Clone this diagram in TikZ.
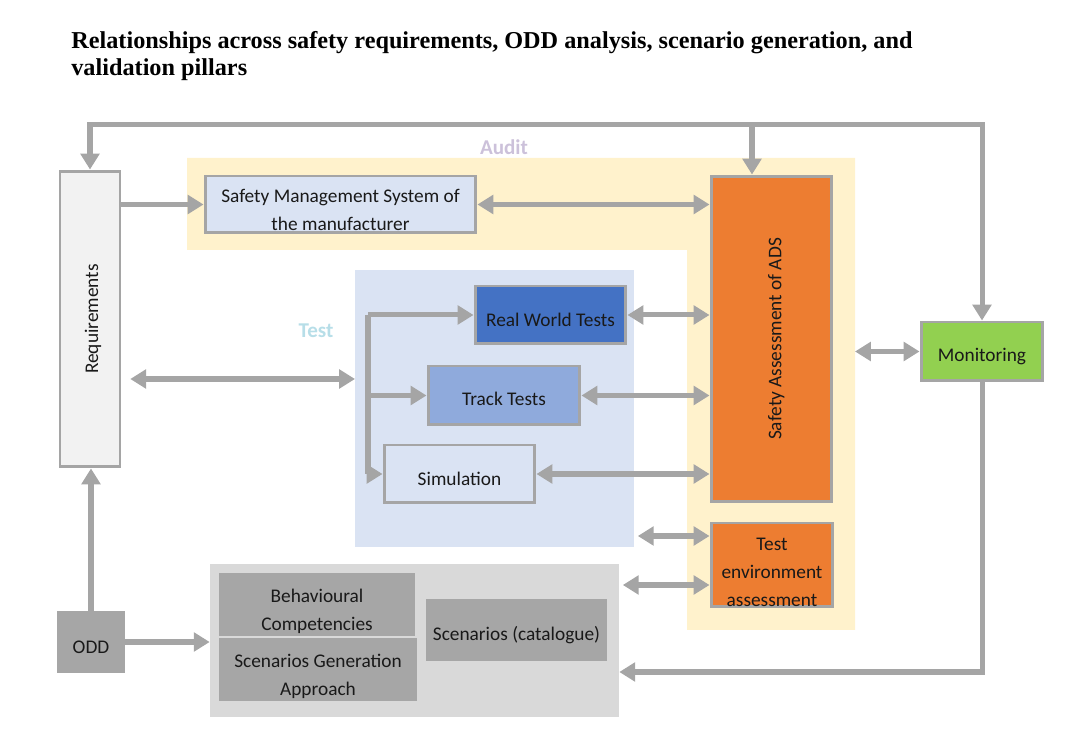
\documentclass[tikz,border=0pt]{standalone}
\usepackage{fontspec}
\setmainfont{Carlito}
\newfontfamily\titlefont{Liberation Serif}
\usetikzlibrary{arrows.meta}
\definecolor{linegray}{HTML}{A5A5A5}
\definecolor{audityellow}{HTML}{FFF2CC}
\definecolor{testblue}{HTML}{DAE3F3}
\definecolor{rwtblue}{HTML}{4472C4}
\definecolor{trackblue}{HTML}{8FAADC}
\definecolor{saorange}{HTML}{ED7D31}
\definecolor{mongreen}{HTML}{92D050}
\definecolor{reqgray}{HTML}{F2F2F2}
\definecolor{scengray}{HTML}{D9D9D9}
\definecolor{darkgray}{HTML}{A6A6A6}
\definecolor{auditlabel}{HTML}{CCC1DA}
\definecolor{testlabel}{HTML}{B7DEE8}
\begin{document}
\begin{tikzpicture}[x=0.02cm,y=-0.02cm,
    >={Triangle[length=9pt,width=10.5pt]},
    box/.style={draw=linegray,line width=1.7pt,inner sep=0pt},
    flatbox/.style={inner sep=0pt,draw=none},
    txt/.style={inner sep=0pt,align=center,yshift=-3pt,
      font=\fontsize{11}{16}\selectfont,text=black!90},
    back/.style={inner sep=0pt,draw=none},
    flow/.style={draw=linegray,line width=2.85pt,->},
    biflow/.style={flow,<->},
    grouplabel/.style={font=\bfseries\fontsize{12}{14}\selectfont}]
  \useasboundingbox (0,0) rectangle (1080,729);

  % title
  \node[anchor=north west,inner sep=0pt,align=left,
    font=\titlefont\bfseries\fontsize{13.8}{15.3}\selectfont] (title) at (71,31)
    {Relationships across safety requirements, ODD analysis, scenario generation, and\\validation pillars};

  % background groups
  \fill[audityellow] (187,158) -- (855,158) -- (855,630) -- (687,630) -- (687,250) -- (187,250) -- cycle;
  \node[back,fill=testblue,minimum width=5.58cm,minimum height=5.54cm] (testbg) at (494.5,408.5) {};
  \node[back,fill=scengray,minimum width=8.18cm,minimum height=3.06cm] (scengrp) at (414.5,640.5) {};
  \node[grouplabel,text=auditlabel] (audit) at (504,147) {Audit};
  \node[grouplabel,text=testlabel] (test) at (316,331) {Test};

  % boxes
  \node[box,fill=reqgray,minimum width=1.2cm,minimum height=5.92cm,
    label={[txt,yshift=3pt,xshift=1.7pt]center:\rotatebox{90}{Requirements}}] (req) at (90,319) {};
  \node[box,fill=testblue,minimum width=5.42cm,minimum height=1.14cm,
    label={[txt]center:{Safety Management System of\\the manufacturer}}] (sms) at (340.5,204.5) {};
  \node[box,fill=saorange,minimum width=2.42cm,minimum height=6.52cm,
    label={[txt,yshift=3pt,xshift=2.8pt]center:\rotatebox{90}{Safety Assessment of ADS}}] (sa) at (771.5,339) {};
  \node[box,fill=saorange,minimum width=2.44cm,minimum height=1.68cm,
    label={[txt,yshift=-1pt]center:{Test\\environment\\assessment}}] (tea) at (772,565) {};
  \node[box,fill=mongreen,minimum width=2.44cm,minimum height=1.18cm,
    label={[txt]center:Monitoring}] (mon) at (982,351.5) {};
  \node[box,fill=rwtblue,minimum width=3.02cm,minimum height=1.16cm,
    label={[txt]center:Real World Tests}] (rwt) at (550.5,315) {};
  \node[box,fill=trackblue,minimum width=3.04cm,minimum height=1.18cm,
    label={[txt,yshift=1pt]center:Track Tests}] (track) at (504,395.5) {};
  \node[box,fill=testblue,minimum width=3.02cm,minimum height=1.16cm,
    label={[txt]center:Simulation}] (sim) at (459.5,474) {};
  \node[flatbox,fill=darkgray,minimum width=3.92cm,minimum height=1.26cm,
    label={[txt,yshift=-1pt]center:{Behavioural\\Competencies}}] (beh) at (317,604.5) {};
  \node[flatbox,fill=darkgray,minimum width=3.96cm,minimum height=1.26cm,
    label={[txt,yshift=-1pt]center:{Scenarios Generation\\Approach}}] (sga) at (318,669.5) {};
  \node[flatbox,fill=darkgray,minimum width=3.62cm,minimum height=1.24cm,
    label={[txt]center:Scenarios (catalogue)}] (cat) at (516.5,630) {};
  \node[flatbox,fill=darkgray,minimum width=1.36cm,minimum height=1.24cm,
    label={[txt]center:ODD}] (odd) at (91,642) {};

  % levels for the connectors
  \coordinate (top) at (0,125);
  \coordinate (satop) at (752,125);
  \coordinate (tin) at (355,379);
  \coordinate (spine) at (368,316);
  \coordinate (tbg) at (0,536);
  \coordinate (sgr) at (0,585);
  \coordinate (aright) at (855,354);
  \coordinate (ret) at (0,672);

  % connectors
  \draw[biflow] (req.north) |- (mon.north |- top) -- (mon.north);
  \draw[flow] (satop) -- (satop |- sa.north);
  \draw[flow] (req.east |- sms) -- (sms.west);
  \draw[biflow] (sms.east) -- (sms.east -| sa.west);
  \draw[biflow] ([xshift=5]req.east |- tin) -- (tin);
  \draw[draw=linegray,line width=2.85pt] (spine |- rwt) -- (spine |- sim);
  \draw[flow] (spine |- rwt) -- (rwt.west);
  \draw[flow] (spine |- track) -- (track.west);
  \draw[flow] (spine |- sim) -- (sim.west);
  \draw[biflow] (rwt.east) -- (rwt.east -| sa.west);
  \draw[biflow] (track.east) -- (track.east -| sa.west);
  \draw[biflow] (sim.east) -- (sim.east -| sa.west);
  \draw[biflow] ([xshift=2]testbg.east |- tbg) -- (tea.west |- tbg);
  \draw[biflow] ([xshift=2]scengrp.east |- sgr) -- (tea.west |- sgr);
  \draw[biflow] (aright |- mon) -- (mon.west);
  \draw[flow] (mon.south) |- (scengrp.east |- ret);
  \draw[flow] (odd.north) -- (odd.north |- req.south);
  \draw[flow] (odd.east) -- (odd.east -| scengrp.west);
\end{tikzpicture}
\end{document}
